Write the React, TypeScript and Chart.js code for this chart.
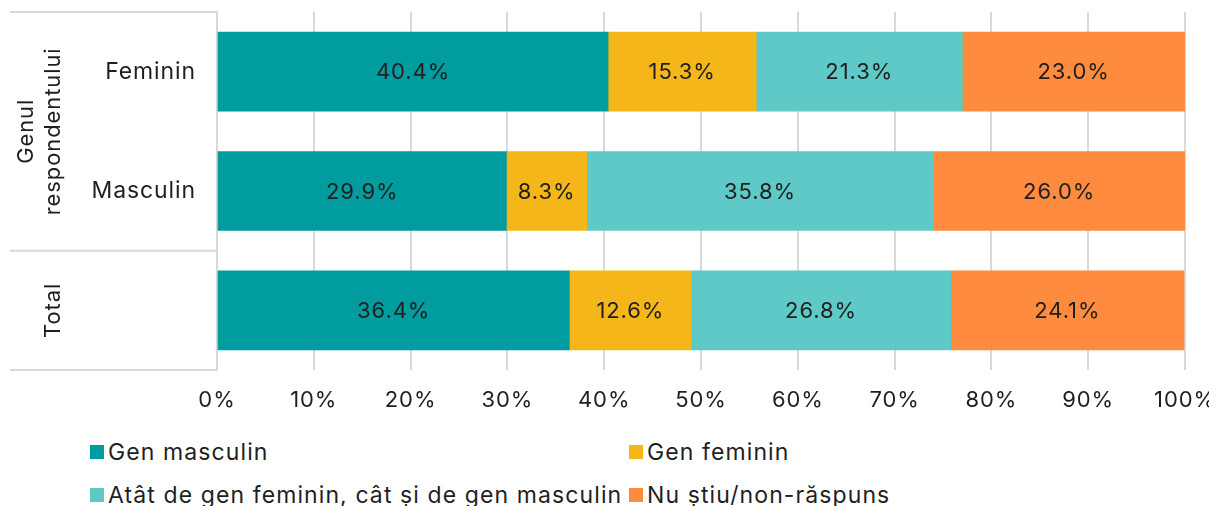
import React, { useEffect, useRef } from "react";
import { Chart, registerables } from "chart.js";

Chart.register(...registerables);

const categories = ["Feminin", "Masculin", "Total"];
const tickLabels = ["Feminin", "Masculin", ""];
const seriesNames = [
  "Gen masculin",
  "Gen feminin",
  "Atât de gen feminin, cât și de gen masculin",
  "Nu știu/non-răspuns",
];
const genMasculin = [40.4, 29.9, 36.4];
const genFeminin = [15.3, 8.3, 12.6];
const ambele = [21.3, 35.8, 26.8];
const nuStiu = [23.0, 26.0, 24.1];
const seriesValues = [genMasculin, genFeminin, ambele, nuStiu];
const seriesColors = ["#019C9F", "#F4B619", "#5EC9C6", "#FF8B3E"];
const groupLabels = [
  { lines: ["Genul", "respondentului"], from: 0, to: 2 },
  { lines: ["Total"], from: 2, to: 3 },
];

const FONT = "Inter, 'Noto Sans', sans-serif";
const TEXT = "#1f1f1f";
const GRID = "#d9d9d9";
const SPACING = "0.9px";

const groupPlugin = {
  id: "groupPlugin",
  beforeDraw(chart: any) {
    chart.ctx.letterSpacing = SPACING;
  },
  afterDraw(chart: any) {
    const { ctx, chartArea } = chart;
    const band = (chartArea.bottom - chartArea.top) / categories.length;
    ctx.save();
    ctx.strokeStyle = GRID;
    ctx.lineWidth = 2;
    const ys = [chartArea.top, chartArea.top + 2 * band, chartArea.bottom];
    ys.forEach((y) => {
      ctx.beginPath();
      ctx.moveTo(2, y);
      ctx.lineTo(chartArea.left, y);
      ctx.stroke();
    });
    ctx.fillStyle = TEXT;
    ctx.letterSpacing = SPACING;
    ctx.font = `22px ${FONT}`;
    ctx.textAlign = "center";
    ctx.textBaseline = "middle";
    groupLabels.forEach((g) => {
      const cy = chartArea.top + ((g.from + g.to) / 2) * band;
      const n = g.lines.length;
      g.lines.forEach((line, i) => {
        const cx = 45 - (n - 1 - i) * 27;
        ctx.save();
        ctx.translate(cx, cy);
        ctx.rotate(-Math.PI / 2);
        ctx.fillText(line, 0, 0);
        ctx.restore();
      });
    });
    ctx.restore();
  },
  afterDatasetsDraw(chart: any) {
    const { ctx } = chart;
    ctx.save();
    ctx.fillStyle = TEXT;
    ctx.letterSpacing = SPACING;
    ctx.font = `22px ${FONT}`;
    ctx.textAlign = "center";
    ctx.textBaseline = "middle";
    chart.data.datasets.forEach((ds: any, di: number) => {
      const meta = chart.getDatasetMeta(di);
      meta.data.forEach((el: any, i: number) => {
        const v = ds.data[i];
        ctx.fillText(v.toFixed(1) + "%", (el.x + el.base) / 2, el.y + 1);
      });
    });
    ctx.restore();
  },
};

export default function App() {
  const ref = useRef<HTMLCanvasElement | null>(null);
  useEffect(() => {
    if (!ref.current) return;
    const chart = new Chart(ref.current, {
      type: "bar",
      data: {
        labels: tickLabels,
        datasets: seriesNames.map((name, i) => ({
          label: name,
          data: seriesValues[i],
          backgroundColor: seriesColors[i],
          borderWidth: 0,
          barThickness: 79,
        })),
      },
      options: {
        indexAxis: "y",
        animation: false,
        responsive: false,
        layout: { padding: { top: 4, right: 32, left: 0, bottom: 0 } },
        plugins: { legend: { display: false }, tooltip: { enabled: false } },
        scales: {
          x: {
            stacked: true,
            min: 0,
            max: 100,
            ticks: {
              stepSize: 10,
              callback: (v: any) => v + "%",
              font: { family: FONT, size: 22 },
              color: TEXT,
              padding: 17,
            },
            grid: { color: GRID, lineWidth: 2, drawTicks: false },
            border: { display: false },
            afterFit: (s: any) => {
              s.height = 48;
              s.paddingLeft = 0;
              s.paddingRight = 0;
            },
          },
          y: {
            stacked: true,
            ticks: {
              font: { family: FONT, size: 23 },
              color: TEXT,
              padding: 13,
            },
            grid: { display: false },
            border: { color: GRID, width: 2 },
            afterFit: (s: any) => {
              s.width = 209;
              s.paddingTop = 0;
              s.paddingBottom = 0;
            },
          },
        },
      } as any,
      plugins: [groupPlugin],
    });
    return () => chart.destroy();
  }, []);

  const legendPos = [
    { x: 82, y: 437 },
    { x: 621, y: 437 },
    { x: 82, y: 480 },
    { x: 621, y: 480 },
  ];

  return (
    <div
      style={{
        position: "relative",
        width: 1209,
        height: 498,
      }}
    >
      <canvas ref={ref} width={1209} height={410} style={{ display: "block" }} />
      {seriesNames.map((name, i) => (
        <div
          key={name}
          style={{
            position: "absolute",
            left: legendPos[i].x,
            top: legendPos[i].y,
            display: "flex",
            alignItems: "center",
            fontFamily: FONT,
            fontSize: 23,
            letterSpacing: "1.1px",
            color: TEXT,
            whiteSpace: "nowrap",
            lineHeight: "14px",
          }}
        >
          <span
            style={{
              display: "inline-block",
              width: 14,
              height: 14,
              background: seriesColors[i],
              marginRight: 4,
            }}
          />
          <span>{name}</span>
        </div>
      ))}
    </div>
  );
}
